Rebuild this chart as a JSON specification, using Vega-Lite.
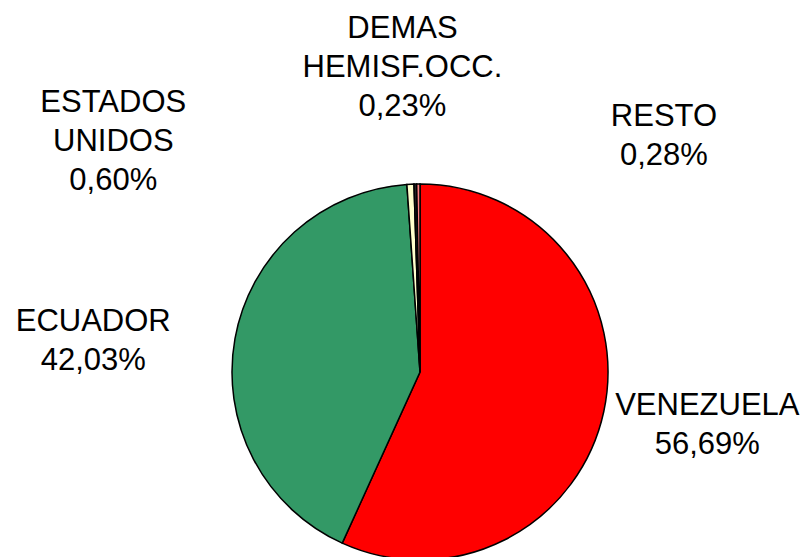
{
  "$schema": "https://vega.github.io/schema/vega-lite/v6.json",
  "width": 840,
  "height": 744,
  "autosize": {"type": "none"},
  "padding": 0,
  "background": "white",
  "config": {"view": {"stroke": null}},
  "data": {
    "values": [
      {"pais": "VENEZUELA", "valor": 56.69, "orden": 1, "etiqueta": "VENEZUELA\n56,69%"},
      {"pais": "ECUADOR", "valor": 42.03, "orden": 2, "etiqueta": "ECUADOR\n42,03%"},
      {"pais": "ESTADOS UNIDOS", "valor": 0.60, "orden": 3, "etiqueta": "ESTADOS\nUNIDOS\n0,60%"},
      {"pais": "DEMAS HEMISF.OCC.", "valor": 0.23, "orden": 4, "etiqueta": "DEMAS\nHEMISF.OCC.\n0,23%"},
      {"pais": "RESTO", "valor": 0.28, "orden": 5, "etiqueta": "RESTO\n0,28%"}
    ]
  },
  "encoding": {
    "theta": {"field": "valor", "type": "quantitative", "stack": true},
    "order": {"field": "orden", "type": "quantitative"}
  },
  "layer": [
    {
      "mark": {"type": "arc", "outerRadius": 188, "stroke": "black", "strokeWidth": 1.5},
      "encoding": {
        "color": {
          "field": "pais",
          "type": "nominal",
          "scale": {
            "domain": ["VENEZUELA", "ECUADOR", "ESTADOS UNIDOS", "DEMAS HEMISF.OCC.", "RESTO"],
            "range": ["#FF0000", "#339966", "#FFFFCC", "#222222", "#FF8080"]
          },
          "legend": null
        }
      }
    },
    {
      "mark": {"type": "text", "radius": 294, "dy": -28, "font": "Liberation Sans", "fontSize": 31, "lineHeight": 39, "lineBreak": "\n", "align": "center", "baseline": "middle", "color": "black"},
      "encoding": {"text": {"condition": {"test": "datum.pais === 'VENEZUELA'", "field": "etiqueta"}, "value": ""}}
    },
    {
      "mark": {"type": "text", "radius": 329, "dx": -3, "dy": 8, "font": "Liberation Sans", "fontSize": 31, "lineHeight": 39, "lineBreak": "\n", "align": "center", "baseline": "middle", "color": "black"},
      "encoding": {"text": {"condition": {"test": "datum.pais === 'ECUADOR'", "field": "etiqueta"}, "value": ""}}
    },
    {
      "mark": {"type": "text", "radius": 230, "dx": -295, "dy": -39, "font": "Liberation Sans", "fontSize": 31, "lineHeight": 39, "lineBreak": "\n", "align": "center", "baseline": "middle", "color": "black"},
      "encoding": {"text": {"condition": {"test": "datum.pais === 'ESTADOS UNIDOS'", "field": "etiqueta"}, "value": ""}}
    },
    {
      "mark": {"type": "text", "radius": 304, "dx": -10, "dy": -39, "font": "Liberation Sans", "fontSize": 31, "lineHeight": 39, "lineBreak": "\n", "align": "center", "baseline": "middle", "color": "black"},
      "encoding": {"text": {"condition": {"test": "datum.pais === 'DEMAS HEMISF.OCC.'", "field": "etiqueta"}, "value": ""}}
    },
    {
      "mark": {"type": "text", "radius": 236, "dx": 246, "dy": -19, "font": "Liberation Sans", "fontSize": 31, "lineHeight": 39, "lineBreak": "\n", "align": "center", "baseline": "middle", "color": "black"},
      "encoding": {"text": {"condition": {"test": "datum.pais === 'RESTO'", "field": "etiqueta"}, "value": ""}}
    }
  ]
}
